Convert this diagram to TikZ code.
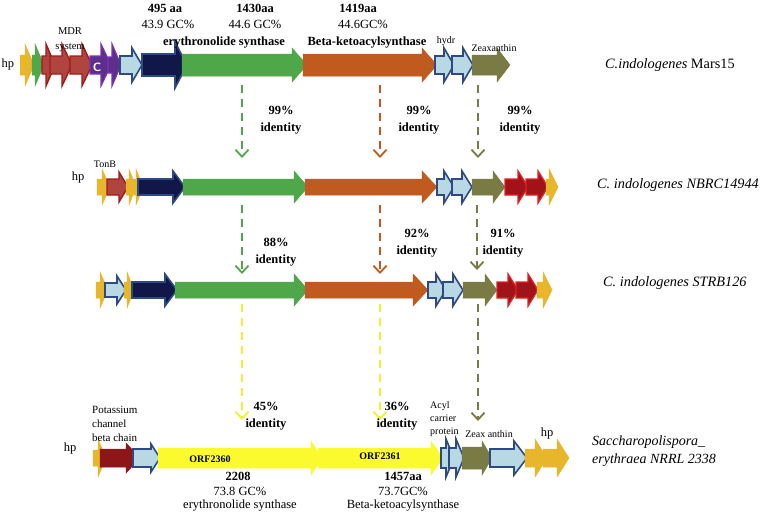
\documentclass[tikz,border=0pt]{standalone}
\usepackage{fontspec}
\setmainfont{Liberation Serif}
\usetikzlibrary{arrows.meta}
\definecolor{gold}{HTML}{E8B62A}
\definecolor{sgreen}{HTML}{4FA84A}
\definecolor{mred}{HTML}{B0453F}
\definecolor{mredo}{HTML}{9E1B1B}
\definecolor{purp}{HTML}{5E2E8C}
\definecolor{purpo}{HTML}{7A35B0}
\definecolor{lblue}{HTML}{B8D8E4}
\definecolor{navyo}{HTML}{2E4A82}
\definecolor{navyf}{HTML}{111849}
\definecolor{bgreen}{HTML}{4EA84A}
\definecolor{orng}{HTML}{C05A1E}
\definecolor{olive}{HTML}{7A7A45}
\definecolor{rred}{HTML}{A01419}
\definecolor{rredo}{HTML}{E02024}
\definecolor{kred}{HTML}{8E1518}
\definecolor{yel}{HTML}{FAFA2E}
\definecolor{dyel}{HTML}{F2F030}
\newcommand{\gene}[7]{%
 \filldraw[#7] (#1,{#3-#4}) -- ({#2-#6},{#3-#4}) -- ({#2-#6},{#3-#5}) -- (#2,#3) -- ({#2-#6},{#3+#5}) -- ({#2-#6},{#3+#4}) -- (#1,{#3+#4}) -- cycle;}
\tikzset{
 gy/.style={fill=gold,draw=gold,line width=0.5pt},
 sg/.style={fill=sgreen,draw=sgreen,line width=0.5pt},
 mr/.style={fill=mred,draw=mredo,line width=1.4pt,line join=miter},
 pu/.style={fill=purp,draw=purpo,line width=1.2pt,line join=miter},
 lb/.style={fill=lblue,draw=navyo,line width=1.6pt,line join=miter},
 nv/.style={fill=navyf,draw=navyo,line width=1.6pt,line join=miter},
 bg/.style={fill=bgreen,draw=bgreen,line width=0.5pt},
 og/.style={fill=orng,draw=orng,line width=0.5pt},
 ol/.style={fill=olive,draw=olive,line width=0.5pt},
 rr/.style={fill=rred,draw=rredo,line width=1.4pt,line join=miter},
 kr/.style={fill=kred,draw=kred,line width=0.5pt},
 yl/.style={fill=yel,draw=yel,line width=0.5pt},
 conn/.style={dash pattern=on 8pt off 6pt,line width=2.2pt,-{Straight Barb[length=7pt,width=13pt,line width=1.8pt]}},
 big/.style={font=\fontsize{12.5}{14}\selectfont,inner sep=0pt},
 bigb/.style={font=\fontsize{12.5}{14}\selectfont\bfseries,inner sep=0pt},
 small/.style={font=\fontsize{10}{11}\selectfont,inner sep=0pt},
 org/.style={font=\fontsize{14.3}{18}\selectfont,inner sep=0pt,align=left},
 idl/.style={font=\fontsize{12.5}{17}\selectfont\bfseries,inner sep=0pt,align=center},
}
\begin{document}
\begin{tikzpicture}[x=1pt,y=-1pt]
\useasboundingbox (0,0) rectangle (764,515);
% ---------- Row 1 ----------
\gene{20}{34}{65}{10}{21}{9}{gy}
\gene{32}{44}{65}{10}{21}{9}{sg}
\gene{42}{55}{65}{9}{21}{9}{mr}
\gene{50}{72}{65}{9}{21}{10}{mr}
\gene{70}{92}{65}{9}{21}{10}{mr}
\gene{90}{111}{65}{9}{21}{10}{pu}
\gene{108}{121}{65}{8}{21}{9}{pu}
\gene{120}{142}{65}{9}{17}{10}{lb}
\gene{142}{187}{65}{11}{23}{12}{nv}
\gene{182}{307}{65}{11}{17}{15}{bg}
\gene{303}{437}{65}{11}{17}{15}{og}
\gene{435}{454}{65}{9}{17}{10}{lb}
\gene{452}{473}{65}{9}{17}{10}{lb}
\gene{472}{510}{65}{10}{17}{13}{ol}
\node[font=\sffamily\bfseries\fontsize{12}{12}\selectfont,text=white,inner sep=0pt] (cC) at (97,67) {C};
\node[big] (hp1) at (8,64) {hp};
\node[font=\fontsize{10.5}{15}\selectfont,inner sep=0pt,align=center] (mdr) at (70,40) {MDR\\system};
\node[bigb] (a495) at (165,8) {495 aa};
\node[big] (g439) at (168,24) {43.9 GC\%};
\node[bigb] (a1430) at (255,8) {1430aa};
\node[big] (g446) at (255,24) {44.6 GC\%};
\node[bigb] (ery1) at (224,43) {erythronolide synthase};
\node[bigb] (a1419) at (358,8) {1419aa};
\node[big] (g446b) at (363,24) {44.6GC\%};
\node[bigb] (bk1) at (367,43) {Beta-ketoacylsynthase};
\node[small] (hydr) at (446,41) {hydr};
\node[small] (zea1) at (494,48) {Zeaxanthin};
\node[org,anchor=west] (o1) at (605,65) {\textit{C.indologenes} Mars15};
% ---------- Row 2 ----------
\gene{97}{110}{187}{8}{18}{8}{gy}
\gene{107}{128}{187}{8}{15}{9}{mr}
\gene{126}{136}{187}{8}{18}{7}{gy}
\gene{133}{143}{187}{8}{18}{7}{gy}
\gene{138}{185}{187}{8}{16}{12}{nv}
\gene{183}{308}{187}{8}{16}{14}{bg}
\gene{305}{437}{187}{8}{16}{15}{og}
\gene{437}{454}{187}{8}{16}{10}{lb}
\gene{452}{472}{187}{8}{16}{10}{lb}
\gene{472}{505}{187}{8}{16}{12}{ol}
\gene{505}{528}{187}{8}{16}{10}{rr}
\gene{526}{548}{187}{8}{16}{10}{rr}
\gene{546}{558}{187}{8}{18}{9}{gy}
\node[big] (hp2) at (78,177) {hp};
\node[small] (tonb) at (105,164) {TonB};
\node[org,anchor=west] (o2) at (597,185) {\textit{C. indologenes NBRC14944}};
% ---------- Row 3 ----------
\gene{96}{108}{290}{8}{18}{8}{gy}
\gene{105}{126}{290}{7}{14}{9}{lb}
\gene{124}{134}{290}{8}{18}{7}{gy}
\gene{132}{177}{290}{8}{16}{12}{nv}
\gene{175}{308}{290}{8}{16}{14}{bg}
\gene{305}{428}{290}{8}{16}{15}{og}
\gene{428}{446}{290}{8}{16}{10}{lb}
\gene{443}{463}{290}{8}{16}{10}{lb}
\gene{463}{497}{290}{8}{16}{12}{ol}
\gene{497}{518}{290}{8}{16}{10}{rr}
\gene{516}{538}{290}{8}{16}{10}{rr}
\gene{537}{552}{290}{8}{18}{9}{gy}
\node[org,anchor=west] (o3) at (603,283) {\textit{C. indologenes STRB126}};
% ---------- Row 4 ----------
\gene{93}{106}{458}{8}{19}{8}{gy}
\gene{100}{140}{458}{9}{15}{14}{kr}
\gene{133}{160}{458}{9}{14}{9}{lb}
\gene{158}{322}{458}{10}{17}{11}{yl}
\gene{318}{443}{458}{10}{17}{12}{yl}
\gene{441}{454}{458}{10}{19}{8}{lb}
\gene{449}{464}{458}{10}{19}{8}{lb}
\gene{462}{492}{458}{11}{17}{10}{ol}
\gene{490}{527}{458}{9}{17}{13}{lb}
\gene{525}{547}{458}{9}{19}{12}{gy}
\gene{543}{569}{458}{9}{19}{12}{gy}
\node[big] (hp4) at (70,448) {hp};
\node[font=\fontsize{11}{14}\selectfont,inner sep=0pt,align=left,anchor=west] (kch) at (92,424) {Potassium\\channel\\beta chain};
\node[font=\fontsize{10}{13}\selectfont,inner sep=0pt,align=left,anchor=west] (acp) at (430,419) {Acyl\\carrier\\protein};
\node[small] (zea4) at (489,434) {Zeax anthin};
\node[big] (hp4b) at (547,433) {hp};
\node[font=\fontsize{10}{11}\selectfont\bfseries,inner sep=0pt] (orf1) at (210,459) {ORF2360};
\node[font=\fontsize{10}{11}\selectfont\bfseries,inner sep=0pt] (orf2) at (380,456) {ORF2361};
\node[bigb] (a2208) at (238,476) {2208};
\node[big] (g738) at (240,491) {73.8 GC\%};
\node[big] (ery4) at (240,506) {erythronolide synthase};
\node[bigb] (a1457) at (403,476) {1457aa};
\node[big] (g737) at (403,491) {73.7GC\%};
\node[big] (bk4) at (403,506) {Beta-ketoacylsynthase};
\node[org,anchor=west,font=\fontsize{14}{18}\selectfont\itshape] (o4) at (592,451) {Saccharopolispora\_\\erythraea NRRL 2338};
% ---------- connectors ----------
\coordinate (c1a) at (242,85);  \coordinate (c1b) at (242,158);
\coordinate (c2a) at (380,85);  \coordinate (c2b) at (380,158);
\coordinate (c3a) at (478,85);  \coordinate (c3b) at (478,158);
\coordinate (c4a) at (242,205); \coordinate (c4b) at (242,274);
\coordinate (c5a) at (380,205); \coordinate (c5b) at (380,274);
\coordinate (c6a) at (477,205); \coordinate (c6b) at (477,270);
\coordinate (c7a) at (242,304); \coordinate (c7b) at (242,420);
\coordinate (c8a) at (380,304); \coordinate (c8b) at (380,420);
\coordinate (c9a) at (478,304); \coordinate (c9b) at (478,421);
\draw[conn,draw=bgreen] (c1a) -- (c1b);
\draw[conn,draw=orng] (c2a) -- (c2b);
\draw[conn,draw=olive] (c3a) -- (c3b);
\draw[conn,draw=bgreen] (c4a) -- (c4b);
\draw[conn,draw=orng] (c5a) -- (c5b);
\draw[conn,draw=olive] (c6a) -- (c6b);
\draw[conn,draw=dyel] (c7a) -- (c7b);
\draw[conn,draw=dyel] (c8a) -- (c8b);
\draw[conn,draw=olive] (c9a) -- (c9b);
\node[idl] (i1) at (281,120) {99\%\\identity};
\node[idl] (i2) at (419,120) {99\%\\identity};
\node[idl] (i3) at (520,120) {99\%\\identity};
\node[idl] (i4) at (276,252) {88\%\\identity};
\node[idl] (i5) at (417,243) {92\%\\identity};
\node[idl] (i6) at (503,243) {91\%\\identity};
\node[idl] (i7) at (266,416) {45\%\\identity};
\node[idl] (i8) at (397,416) {36\%\\identity};
\end{tikzpicture}
\end{document}
